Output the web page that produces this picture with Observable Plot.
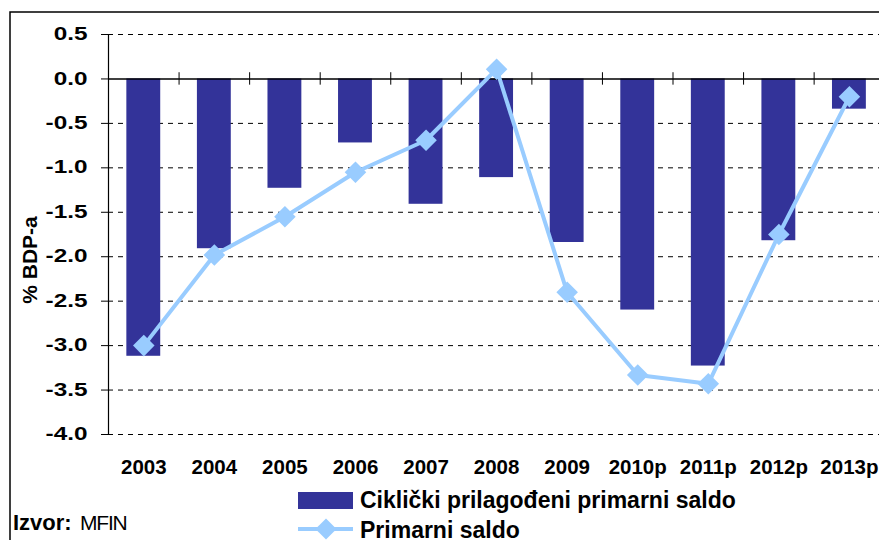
<!DOCTYPE html>
<html>
<head>
<meta charset="utf-8">
<script src="https://cdn.jsdelivr.net/npm/d3@7"></script>
<script src="https://cdn.jsdelivr.net/npm/@observablehq/plot@0.6"></script>
<style>
  html, body { margin: 0; padding: 0; background: #fff; overflow: hidden; }
  #wrap { position: relative; width: 879px; height: 540px; overflow: hidden; font-family: 'Liberation Sans', Arial, sans-serif; }
  #chart { position: absolute; left: 0; top: 0; }
  #overlay { position: absolute; left: 0; top: 0; pointer-events: none; }
</style>
</head>
<body>
<div id="wrap">
  <div id="chart"></div>
  <svg id="overlay" width="879" height="540" font-family="'Liberation Sans', Arial, sans-serif"></svg>
</div>
<script>
// ---- data ----
const years = ["2003","2004","2005","2006","2007","2008","2009","2010p","2011p","2012p","2013p"];
const cyclicallyAdjusted = [-3.12,-1.91,-1.23,-0.72,-1.41,-1.11,-1.84,-2.60,-3.23,-1.82,-0.34];
const primaryBalance = [-3.00,-1.98,-1.55,-1.05,-0.69,0.11,-2.40,-3.33,-3.43,-1.75,-0.20];
const yTicks = [0.5,0,-0.5,-1,-1.5,-2,-2.5,-3,-3.5,-4];
const seriesNames = ["Ciklički prilagođeni primarni saldo","Primarni saldo"];
const yLabel = "% BDP-a";
const sourceLabel = "Izvor:";
const sourceName = "MFIN";

const barColor = "#333399";
const lineColor = "#99CCFF";

const rows = years.map((y, i) => ({year: y, cyc: cyclicallyAdjusted[i], prim: primaryBalance[i]}));

const xRange = [108, 884.2];
const pInner = 0.52, pOuter = 0.26;
const step = (xRange[1] - xRange[0]) / (years.length - pInner + 2 * pOuter);

const plot = Plot.plot({
  width: 879,
  height: 480,
  marginLeft: 108,
  marginRight: 0,
  marginTop: 34,
  marginBottom: 46,
  style: {fontFamily: "'Liberation Sans', Arial, sans-serif", color: "#000", background: "transparent", overflow: "visible"},
  x: {domain: years, range: xRange, paddingInner: pInner, paddingOuter: pOuter, round: false, label: null},
  y: {domain: [-4, 0.5], label: null},
  marks: [
    Plot.ruleY(yTicks.filter(d => d !== 0), {stroke: "#000", strokeWidth: 1, strokeDasharray: "5,5"}),
    Plot.barY(rows, {x: "year", y: "cyc", fill: barColor}),
    Plot.ruleY([0], {stroke: "#000", strokeWidth: 1.5}),
    Plot.ruleX([years[0]], {x: d => d, dx: -step / 2, y1: 0.5, y2: -4, stroke: "#000", strokeWidth: 1.2}),
    Plot.ruleX(years.slice(1), {x: d => d, dx: -step / 2, y1: 0.07, y2: -0.07, stroke: "#000", strokeWidth: 1}),
    Plot.lineY(rows, {x: "year", y: "prim", stroke: lineColor, strokeWidth: 4}),
    Plot.dot(rows, {x: "year", y: "prim", symbol: "diamond2", r: 9.7, fill: lineColor, stroke: "none"}),
    Plot.axisY({ticks: yTicks, tickSize: 7, tickPadding: 14, tickFormat: d => d.toFixed(1), fontSize: 17.5, fontWeight: "bold", label: null}),
    Plot.axisX({tickSize: 0, tickPadding: 24.5, fontSize: 20.5, fontWeight: "bold", label: null})
  ]
});
document.getElementById("chart").appendChild(plot);

// stretch y tick labels horizontally like the original
plot.querySelectorAll('g[aria-label="y-axis tick label"] text').forEach(t => {
  const w = t.getComputedTextLength();
  t.setAttribute("textLength", (w * 1.39).toFixed(1));
  t.setAttribute("lengthAdjust", "spacingAndGlyphs");
});

// ---- overlay: frame, axis title, legend, source ----
const ov = d3.select("#overlay");
ov.append("path").attr("d", "M10,541 L10,12 L880,12").attr("fill", "none").attr("stroke", "#000").attr("stroke-width", 1.5);

ov.append("text").attr("transform", "translate(37,260) rotate(-90)").attr("text-anchor", "middle")
  .attr("font-size", 21).attr("font-weight", "bold").text(yLabel);

// legend row 1
ov.append("rect").attr("x", 298).attr("y", 492).attr("width", 55).attr("height", 17).attr("fill", barColor);
ov.append("text").attr("x", 360).attr("y", 508).attr("font-size", 23).attr("font-weight", "bold").text(seriesNames[0]);
// legend row 2
ov.append("line").attr("x1", 298).attr("x2", 353).attr("y1", 529).attr("y2", 529).attr("stroke", lineColor).attr("stroke-width", 4);
ov.append("path").attr("d", d3.symbol(d3.symbolDiamond2, Math.PI * 9.5 * 9.5)()).attr("transform", "translate(326,529)").attr("fill", lineColor);
ov.append("text").attr("x", 360).attr("y", 538).attr("font-size", 23).attr("font-weight", "bold").text(seriesNames[1]);

// source
ov.append("text").attr("x", 13).attr("y", 530).attr("font-size", 22).attr("font-weight", "bold").text(sourceLabel);
ov.append("text").attr("x", 80).attr("y", 530).attr("font-size", 21).attr("letter-spacing", "-1.2").text(sourceName);
</script>
</body>
</html>
